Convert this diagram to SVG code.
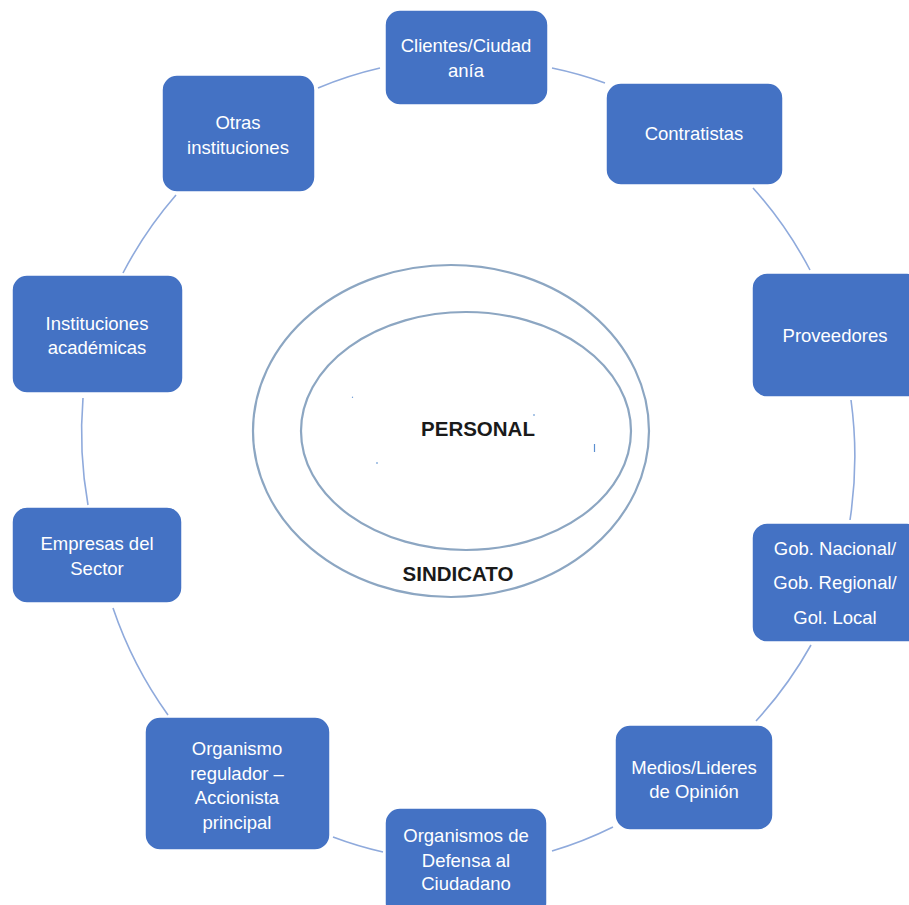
<svg xmlns="http://www.w3.org/2000/svg" width="909" height="905" viewBox="0 0 909 905">
  <style>
    .box { fill: #4472C4; stroke: #ffffff; stroke-width: 1.5; }
    .lbl { fill: #ffffff; font-family: "Liberation Sans", Arial, sans-serif; font-size: 18.5px; text-anchor: middle; }
    .ring { fill: none; stroke: #8FAADC; stroke-width: 1.6; }
    .core { fill: none; stroke: #8CA6C2; stroke-width: 2.2; }
    .title { fill: #1a1a1a; font-family: "Liberation Sans", Arial, sans-serif; font-size: 20.5px; font-weight: bold; text-anchor: middle; }
    .speck { stroke: #5B8FD0; stroke-width: 1.2; }
  </style>
  <rect width="909" height="905" fill="#ffffff"/>

  <!-- central stakeholders: union around staff -->
  <g id="sindicato">
    <ellipse class="core" cx="451" cy="431" rx="198" ry="166"/>
    <text class="title" x="458" y="581">SINDICATO</text>
  </g>
  <g id="personal">
    <ellipse class="core" cx="466" cy="431" rx="165" ry="119"/>
    <text class="title" x="478" y="436">PERSONAL</text>
    <line class="speck" x1="352" y1="397" x2="353" y2="397.5"/>
    <line class="speck" x1="376" y1="463" x2="378" y2="463"/>
    <line class="speck" x1="533" y1="415" x2="535" y2="415"/>
    <line class="speck" x1="594.5" y1="444" x2="594.5" y2="452"/>
  </g>

  <!-- cycle connectors between the outer nodes -->
  <g id="connectors">
    <path class="ring" d="M552 68 A387 402 0 0 1 605 83"/>
    <path class="ring" d="M753 188 A387 402 0 0 1 810 270"/>
    <path class="ring" d="M851 400 A387 402 0 0 1 850 520"/>
    <path class="ring" d="M811 645 A387 402 0 0 1 756 721"/>
    <path class="ring" d="M613 827 A387 402 0 0 1 552 851"/>
    <path class="ring" d="M383 852 A387 402 0 0 1 333 837"/>
    <path class="ring" d="M168 715 A387 402 0 0 1 113 608"/>
    <path class="ring" d="M88 505 A387 402 0 0 1 83 398"/>
    <path class="ring" d="M123 273 A387 402 0 0 1 176 195"/>
    <path class="ring" d="M318 88 A387 402 0 0 1 380 68"/>
  </g>

  <g id="clientes">
    <rect class="box" x="385" y="10" width="163" height="95" rx="15"/>
    <text class="lbl" x="466" y="51.5">Clientes/Ciudad</text>
    <text class="lbl" x="466" y="76.5">anía</text>
  </g>
  <g id="contratistas">
    <rect class="box" x="606" y="83" width="177" height="102" rx="15"/>
    <text class="lbl" x="694" y="139.5">Contratistas</text>
  </g>
  <g id="proveedores">
    <rect class="box" x="752" y="273" width="170" height="124" rx="15"/>
    <text class="lbl" x="835" y="341.5">Proveedores</text>
  </g>
  <g id="gobierno">
    <rect class="box" x="752" y="523" width="170" height="119" rx="15"/>
    <text class="lbl" x="835" y="554.5">Gob. Nacional/</text>
    <text class="lbl" x="835" y="588.5">Gob. Regional/</text>
    <text class="lbl" x="835" y="623.5">Gol. Local</text>
  </g>
  <g id="medios">
    <rect class="box" x="615" y="725" width="158" height="105" rx="15"/>
    <text class="lbl" x="694" y="773.5">Medios/Lideres</text>
    <text class="lbl" x="694" y="797.5">de Opinión</text>
  </g>
  <g id="defensa">
    <rect class="box" x="385" y="808" width="162" height="110" rx="15"/>
    <text class="lbl" x="466" y="841.5">Organismos de</text>
    <text class="lbl" x="466" y="866.5">Defensa al</text>
    <text class="lbl" x="466" y="889.5">Ciudadano</text>
  </g>
  <g id="regulador">
    <rect class="box" x="145" y="717" width="185" height="133" rx="15"/>
    <text class="lbl" x="237" y="754.5">Organismo</text>
    <text class="lbl" x="237" y="779.5">regulador –</text>
    <text class="lbl" x="237" y="803.5">Accionista</text>
    <text class="lbl" x="237" y="828.5">principal</text>
  </g>
  <g id="empresas">
    <rect class="box" x="12" y="507" width="170" height="96" rx="15"/>
    <text class="lbl" x="97" y="549.5">Empresas del</text>
    <text class="lbl" x="97" y="574.5">Sector</text>
  </g>
  <g id="academicas">
    <rect class="box" x="12" y="275" width="171" height="118" rx="15"/>
    <text class="lbl" x="97" y="329.5">Instituciones</text>
    <text class="lbl" x="97" y="353.5">académicas</text>
  </g>
  <g id="otras">
    <rect class="box" x="162" y="75" width="153" height="117" rx="15"/>
    <text class="lbl" x="238" y="128.5">Otras</text>
    <text class="lbl" x="238" y="153.5">instituciones</text>
  </g>
</svg>
